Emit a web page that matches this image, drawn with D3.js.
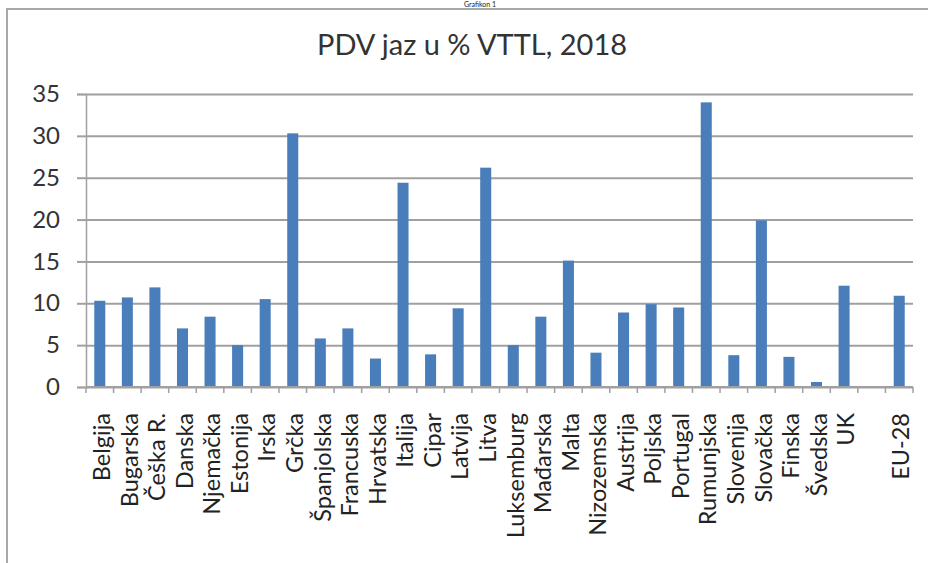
<!DOCTYPE html>
<html>
<head>
<meta charset="utf-8">
<script src="https://cdn.jsdelivr.net/npm/d3@7"></script>
<style>
  body { margin: 0; background: #fff; }
  text { font-family: Lato, "Open Sans", sans-serif; }
</style>
</head>
<body>
<div id="chart-area"></div>
<script>
const W = 928, H = 563;
const margin = {top: 94, right: 15, bottom: 176, left: 86};

const title = "PDV jaz u % VTTL, 2018";
const caption = "Grafikon 1";

// empty slot before EU-28 is kept as a blank category
const categories = ["Belgija","Bugarska","Češka R.","Danska","Njemačka","Estonija","Irska","Grčka",
  "Španjolska","Francuska","Hrvatska","Italija","Cipar","Latvija","Litva","Luksemburg","Mađarska",
  "Malta","Nizozemska","Austrija","Poljska","Portugal","Rumunjska","Slovenija","Slovačka","Finska",
  "Švedska","UK"," ","EU-28"];
const values = [10.3,10.7,11.9,7.0,8.4,5.0,10.5,30.3,5.8,7.0,3.4,24.4,3.9,9.4,26.2,5.0,8.4,
  15.1,4.1,8.9,9.9,9.5,34.0,3.8,19.9,3.6,0.6,12.1,null,10.9];
const yTicks = [0,5,10,15,20,25,30,35];

const width = W - margin.left - margin.right;
const height = H - margin.top - margin.bottom;

const svg = d3.select("#chart-area").append("svg")
    .attr("width", W)
    .attr("height", H);

// frame
svg.append("rect")
    .attr("x", 7).attr("y", 9)
    .attr("width", W + 10).attr("height", H + 10)
    .attr("fill", "none")
    .attr("stroke", "#a8a8a8")
    .attr("stroke-width", 2);

// caption above the frame (mostly cropped in the original)
svg.append("text")
    .attr("x", 480).attr("y", 7.3)
    .attr("text-anchor", "middle")
    .attr("font-size", 7)
    .attr("fill", "#222")
    .text(caption);

svg.append("text")
    .attr("x", 472).attr("y", 55)
    .attr("text-anchor", "middle")
    .attr("font-size", 29)
    .attr("fill", "#333")
    .text(title);

const g = svg.append("g")
    .attr("transform", "translate(" + margin.left + "," + margin.top + ")");

const x = d3.scaleBand()
    .domain(categories)
    .range([0, width])
    .paddingInner(0.6)
    .paddingOuter(0.3);

const y = d3.scaleLinear()
    .domain([0, 35])
    .range([height, 0]);

// gridlines
g.append("g")
    .attr("class", "grid")
    .call(d3.axisLeft(y).tickValues(yTicks).tickSize(-width).tickFormat(""))
    .call(s => s.select(".domain").remove())
    .call(s => s.selectAll("line").attr("stroke", "#a0a0a0").attr("stroke-width", 2));

// y axis
g.append("g")
    .call(d3.axisLeft(y).tickValues(yTicks).tickSize(9).tickPadding(17))
    .call(s => s.select(".domain").attr("stroke", "#a0a0a0").attr("stroke-width", 1.5))
    .call(s => s.selectAll("line").attr("stroke", "#a0a0a0").attr("stroke-width", 2))
    .call(s => s.selectAll("text").attr("font-size", 24).attr("fill", "#333")
        .style("font-family", "Lato, sans-serif"));

// bars
g.append("g")
    .selectAll("rect")
    .data(categories.map((c, i) => ({c: c, v: values[i]})).filter(d => d.v != null))
    .enter()
    .append("rect")
    .attr("x", d => x(d.c))
    .attr("y", d => y(d.v))
    .attr("width", x.bandwidth())
    .attr("height", d => height - y(d.v))
    .attr("fill", "#4a7ebb");

// x axis: ticks at slot boundaries
const step = x.step();
const bounds = categories.map((c, i) => i * step).concat([categories.length * step]);
const xa = g.append("g").attr("transform", "translate(0," + height + ")");
xa.append("line")
    .attr("x1", 0).attr("x2", width)
    .attr("stroke", "#a0a0a0").attr("stroke-width", 2);
xa.selectAll(".tick")
    .data(bounds)
    .enter()
    .append("line")
    .attr("x1", d => d).attr("x2", d => d)
    .attr("y1", 0).attr("y2", 6)
    .attr("stroke", "#a0a0a0").attr("stroke-width", 1.5);

xa.selectAll(".lab")
    .data(categories)
    .enter()
    .append("text")
    .attr("transform", d => "translate(" + (x(d) + x.bandwidth() / 2 + 2) + ",26) rotate(-90)")
    .attr("dy", "0.35em")
    .attr("text-anchor", "end")
    .attr("font-size", 23.5)
    .attr("fill", "#222")
    .text(d => d);
</script>
</body>
</html>
